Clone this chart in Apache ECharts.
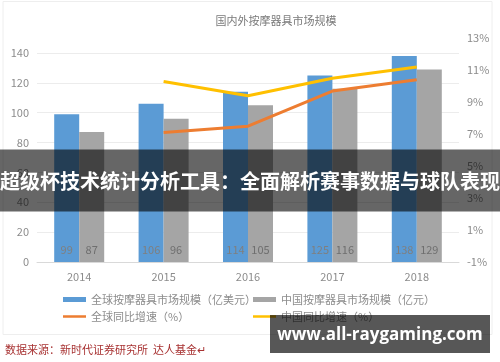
<!DOCTYPE html>
<html>
<head>
<meta charset="utf-8">
<script src="https://cdn.jsdelivr.net/npm/echarts@6/dist/echarts.min.js"></script>
<style>html,body{margin:0;padding:0;background:#fff}#c{width:500px;height:362px}</style>
</head>
<body>
<div id="c"></div>
<script>
const categories = ['2014', '2015', '2016', '2017', '2018'];
const globalMarket = [99, 106, 114, 125, 138];
const chinaMarket = [87, 96, 105, 116, 129];
const globalGrowth = [null, 7.1, 7.5, 9.7, 10.4];
const chinaGrowth = [null, 10.3, 9.4, 10.5, 11.2];
const leftTicks = {min: 0, max: 140, interval: 20};
const rightTicks = {min: -1, max: 13, interval: 2};
const names = ['全球按摩器具市场规模（亿美元）', '中国按摩器具市场规模（亿元）', '全球同比增速（%）', '中国同比增速（%）'];

const FONT = '"Noto Sans CJK SC", "Microsoft YaHei", sans-serif';
const chart = echarts.init(document.getElementById('c'), null, {renderer: 'canvas'});
const legendText = {color: '#8c8c8c', fontSize: 11, fontFamily: FONT};
chart.setOption({
  animation: false,
  backgroundColor: '#fff',
  textStyle: {fontFamily: FONT},
  title: {
    text: '国内外按摩器具市场规模', left: 271, top: 10, textAlign: 'center',
    textStyle: {color: '#7a7a7a', fontSize: 11, fontWeight: 'normal', fontFamily: FONT}
  },
  grid: [
    {left: 37, right: 41, top: 53, bottom: 100},
    {left: 37, right: 41, top: 38.3, bottom: 100}
  ],
  legend: [
    {data: [names[0]], left: 63, top: 294, icon: 'rect', itemWidth: 23, itemHeight: 5, itemGap: 0, textStyle: legendText, padding: 0},
    {data: [names[1]], left: 253, top: 294, icon: 'rect', itemWidth: 23, itemHeight: 5, itemGap: 0, textStyle: legendText, padding: 0},
    {data: [names[2]], left: 63, top: 311, icon: 'rect', itemWidth: 23, itemHeight: 2.5, itemGap: 0, textStyle: legendText, padding: 0},
    {data: [names[3]], left: 253, top: 311, icon: 'rect', itemWidth: 23, itemHeight: 2.5, itemGap: 0, textStyle: legendText, padding: 0}
  ],
  xAxis: [
    {type: 'category', data: categories, gridIndex: 0,
      axisLine: {lineStyle: {color: '#d9d9d9'}}, axisTick: {show: false},
      axisLabel: {color: '#8c8c8c', fontSize: 11, margin: 9, fontFamily: FONT}},
    {type: 'category', data: categories, gridIndex: 1, show: false}
  ],
  yAxis: [
    {type: 'value', gridIndex: 0, min: leftTicks.min, max: leftTicks.max, interval: leftTicks.interval,
      axisLine: {show: false}, axisTick: {show: false},
      axisLabel: {color: '#8c8c8c', fontSize: 11, margin: 8, fontFamily: FONT},
      splitLine: {lineStyle: {color: '#ececec'}}},
    {type: 'value', gridIndex: 1, position: 'right', min: rightTicks.min, max: rightTicks.max, interval: rightTicks.interval,
      axisLine: {show: false}, axisTick: {show: false}, splitLine: {show: false},
      axisLabel: {color: '#8c8c8c', fontSize: 11, margin: 8, formatter: '{value}%', fontFamily: FONT}}
  ],
  series: [
    {name: names[0], type: 'bar', data: globalMarket, xAxisIndex: 0, yAxisIndex: 0,
      barWidth: 25, barGap: '0%', itemStyle: {color: '#5b9bd5'},
      label: {show: true, position: 'insideBottom', distance: 7, color: '#7f7f7f', fontSize: 11, fontFamily: FONT}},
    {name: names[1], type: 'bar', data: chinaMarket, xAxisIndex: 0, yAxisIndex: 0,
      barWidth: 25, barGap: '0%', itemStyle: {color: '#a5a5a5'},
      label: {show: true, position: 'insideBottom', distance: 7, color: '#6f6f6f', fontSize: 11, fontFamily: FONT}},
    {name: names[2], type: 'line', data: globalGrowth, xAxisIndex: 1, yAxisIndex: 1,
      showSymbol: false, symbol: 'none', lineStyle: {color: '#ed7d31', width: 3}, itemStyle: {color: '#ed7d31'}},
    {name: names[3], type: 'line', data: chinaGrowth, xAxisIndex: 1, yAxisIndex: 1,
      showSymbol: false, symbol: 'none', lineStyle: {color: '#ffc000', width: 3}, itemStyle: {color: '#ffc000'}}
  ],
  graphic: [
    {type: 'rect', shape: {x: 3, y: 1.5, width: 489, height: 333}, style: {fill: 'none', stroke: '#eeeeee', lineWidth: 1}, z: 0},
    {type: 'text', left: 5, top: 344, style: {text: '数据来源：新时代证券研究所  达人基金↵', fill: '#a83232', fontSize: 11, fontFamily: FONT}},
    {type: 'rect', shape: {x: 0, y: 149.5, width: 500, height: 62}, style: {fill: 'rgba(0,0,0,0.6)'}, z: 100},
    {type: 'text', x: 250, y: 181, z: 101, style: {text: '超级杯技术统计分析工具：全面解析赛事数据与球队表现', fill: '#ffffff', fontSize: 20, fontWeight: 'bold', fontFamily: FONT, textAlign: 'center', textVerticalAlign: 'middle'}},
    {type: 'rect', shape: {x: 270, y: 315, width: 220, height: 38}, style: {fill: 'rgba(0,0,0,0.66)'}, z: 100},
    {type: 'text', x: 380, y: 335, z: 101, style: {text: 'www.all-raygaming.com', fill: '#ffffff', fontSize: 17, fontWeight: 'bold', fontFamily: '"Open Sans", "DejaVu Sans", sans-serif', textAlign: 'center', textVerticalAlign: 'middle'}}
  ]
});
</script>
</body>
</html>
